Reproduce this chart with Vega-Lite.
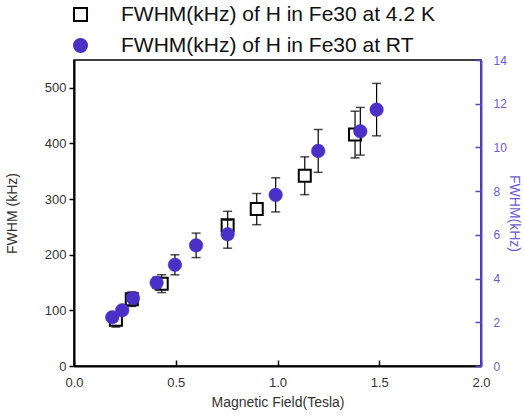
{
  "$schema": "https://vega.github.io/schema/vega-lite/v6.json",
  "width": 407,
  "height": 306,
  "autosize": {"type": "none"},
  "padding": {"left": 74, "top": 60, "right": 43, "bottom": 52},
  "background": "white",
  "config": {
    "view": {"stroke": "black", "strokeWidth": 1.5},
    "font": "Liberation Sans",
    "axis": {"grid": false, "ticks": true, "labelFont": "Liberation Sans", "titleFont": "Liberation Sans", "labelColor": "#333", "titleColor": "#333", "labelFontSize": 13, "titleFontSize": 14, "titleFontWeight": "normal", "labelOverlap": false},
    "axisBottom": {"domainColor": "black", "domainWidth": 2, "tickColor": "black", "tickWidth": 1.5, "tickSize": -6, "labelPadding": 16, "titlePadding": 6},
    "axisLeft": {"domainColor": "black", "domainWidth": 2, "tickColor": "black", "tickWidth": 1.5, "tickSize": 5, "labelPadding": 3, "titlePadding": 25},
    "axisRight": {"domainColor": "#5545cc", "domainWidth": 2, "tickColor": "#5545cc", "tickWidth": 1.5, "tickSize": -6, "labelColor": "#6b5bd6", "labelFontSize": 12, "titleColor": "#6b5bd6", "titleFontSize": 14, "titleAngle": 90, "labelPadding": 18, "titlePadding": 0}
  },
  "datasets": {
    "lowT": [
      {"series": "FWHM(kHz) of H in Fe30  at 4.2 K", "B": 0.206, "fwhm": 83, "err": 13},
      {"series": "FWHM(kHz) of H in Fe30  at 4.2 K", "B": 0.284, "fwhm": 120, "err": 13},
      {"series": "FWHM(kHz) of H in Fe30  at 4.2 K", "B": 0.431, "fwhm": 148, "err": 16},
      {"series": "FWHM(kHz) of H in Fe30  at 4.2 K", "B": 0.755, "fwhm": 253, "err": 25},
      {"series": "FWHM(kHz) of H in Fe30  at 4.2 K", "B": 0.898, "fwhm": 282, "err": 28},
      {"series": "FWHM(kHz) of H in Fe30  at 4.2 K", "B": 1.134, "fwhm": 342, "err": 34},
      {"series": "FWHM(kHz) of H in Fe30  at 4.2 K", "B": 1.381, "fwhm": 416, "err": 42}
    ],
    "rt": [
      {"series": "FWHM(kHz) of H in Fe30  at RT", "B": 0.188, "fwhm": 2.23, "err": 0.2},
      {"series": "FWHM(kHz) of H in Fe30  at RT", "B": 0.237, "fwhm": 2.55, "err": 0.2},
      {"series": "FWHM(kHz) of H in Fe30  at RT", "B": 0.29, "fwhm": 3.11, "err": 0.25},
      {"series": "FWHM(kHz) of H in Fe30  at RT", "B": 0.406, "fwhm": 3.81, "err": 0.25},
      {"series": "FWHM(kHz) of H in Fe30  at RT", "B": 0.496, "fwhm": 4.63, "err": 0.46},
      {"series": "FWHM(kHz) of H in Fe30  at RT", "B": 0.6, "fwhm": 5.52, "err": 0.56},
      {"series": "FWHM(kHz) of H in Fe30  at RT", "B": 0.755, "fwhm": 6.03, "err": 0.64},
      {"series": "FWHM(kHz) of H in Fe30  at RT", "B": 0.991, "fwhm": 7.83, "err": 0.78},
      {"series": "FWHM(kHz) of H in Fe30  at RT", "B": 1.2, "fwhm": 9.84, "err": 0.98},
      {"series": "FWHM(kHz) of H in Fe30  at RT", "B": 1.407, "fwhm": 10.74, "err": 1.09},
      {"series": "FWHM(kHz) of H in Fe30  at RT", "B": 1.487, "fwhm": 11.73, "err": 1.2}
    ]
  },
  "layer": [
    {
      "data": {"name": "lowT"},
      "layer": [
        {
          "mark": {"type": "errorbar", "color": "black", "ticks": {"size": 9, "thickness": 1.5, "color": "black"}, "rule": {"color": "black", "strokeWidth": 1.2}},
          "encoding": {
            "x": {"field": "B", "type": "quantitative", "scale": {"domain": [0, 2], "nice": false, "zero": false}, "title": "Magnetic Field(Tesla)"},
            "y": {"field": "fwhm", "type": "quantitative", "scale": {"domain": [0, 550], "nice": false}, "title": "FWHM (kHz)"},
            "yError": {"field": "err"}
          }
        },
        {
          "mark": {"type": "point", "size": 144, "strokeWidth": 2, "opacity": 1},
          "encoding": {
            "x": {
              "field": "B", "type": "quantitative", "title": "Magnetic Field(Tesla)",
              "axis": {"orient": "bottom", "tickCount": 4, "format": ".1f", "labelFlush": false}
            },
            "y": {
              "field": "fwhm", "type": "quantitative", "title": "FWHM (kHz)",
              "axis": {"orient": "left", "tickCount": 6}
            },
            "shape": {
              "field": "series", "type": "nominal",
              "scale": {"domain": ["FWHM(kHz) of H in Fe30  at 4.2 K", "FWHM(kHz) of H in Fe30  at RT"], "range": ["square", "circle"]},
              "legend": {"orient": "none", "legendX": -4, "legendY": -56, "title": null, "padding": 0, "labelFont": "Liberation Sans", "labelFontSize": 21, "labelColor": "#111", "symbolSize": 170, "symbolStrokeWidth": 2, "symbolOpacity": 1, "labelOffset": 30, "rowPadding": 8, "labelLimit": 500}
            },
            "fill": {
              "field": "series", "type": "nominal",
              "scale": {"domain": ["FWHM(kHz) of H in Fe30  at 4.2 K", "FWHM(kHz) of H in Fe30  at RT"], "range": ["white", "#4a30c6"]},
              "legend": {"orient": "none", "legendX": -4, "legendY": -56, "title": null, "padding": 0, "labelFont": "Liberation Sans", "labelFontSize": 21, "labelColor": "#111", "symbolSize": 170, "symbolStrokeWidth": 2, "symbolOpacity": 1, "labelOffset": 30, "rowPadding": 8, "labelLimit": 500}
            },
            "stroke": {
              "field": "series", "type": "nominal",
              "scale": {"domain": ["FWHM(kHz) of H in Fe30  at 4.2 K", "FWHM(kHz) of H in Fe30  at RT"], "range": ["black", "#4a30c6"]},
              "legend": {"orient": "none", "legendX": -4, "legendY": -56, "title": null, "padding": 0, "labelFont": "Liberation Sans", "labelFontSize": 21, "labelColor": "#111", "symbolSize": 170, "symbolStrokeWidth": 2, "symbolOpacity": 1, "labelOffset": 30, "rowPadding": 8, "labelLimit": 500}
            }
          }
        }
      ]
    },
    {
      "data": {"name": "rt"},
      "layer": [
        {
          "mark": {"type": "errorbar", "color": "black", "ticks": {"size": 9, "thickness": 1.5, "color": "black"}, "rule": {"color": "black", "strokeWidth": 1.2}},
          "encoding": {
            "x": {"field": "B", "type": "quantitative", "title": "Magnetic Field(Tesla)"},
            "y": {"field": "fwhm", "type": "quantitative", "scale": {"domain": [0, 14], "nice": false}, "title": "FWHM(kHz)"},
            "yError": {"field": "err"}
          }
        },
        {
          "mark": {"type": "point", "size": 185, "strokeWidth": 0.5, "opacity": 1},
          "encoding": {
            "x": {"field": "B", "type": "quantitative", "title": "Magnetic Field(Tesla)"},
            "y": {
              "field": "fwhm", "type": "quantitative", "title": "FWHM(kHz)",
              "axis": {"orient": "right", "tickCount": 7, "titleColor": "#6b5bd6", "labelColor": "#6b5bd6", "titleOpacity": 1}
            },
            "shape": {"field": "series", "type": "nominal"},
            "fill": {"field": "series", "type": "nominal"},
            "stroke": {"field": "series", "type": "nominal"}
          }
        }
      ]
    }
  ],
  "resolve": {"scale": {"y": "independent"}}
}
